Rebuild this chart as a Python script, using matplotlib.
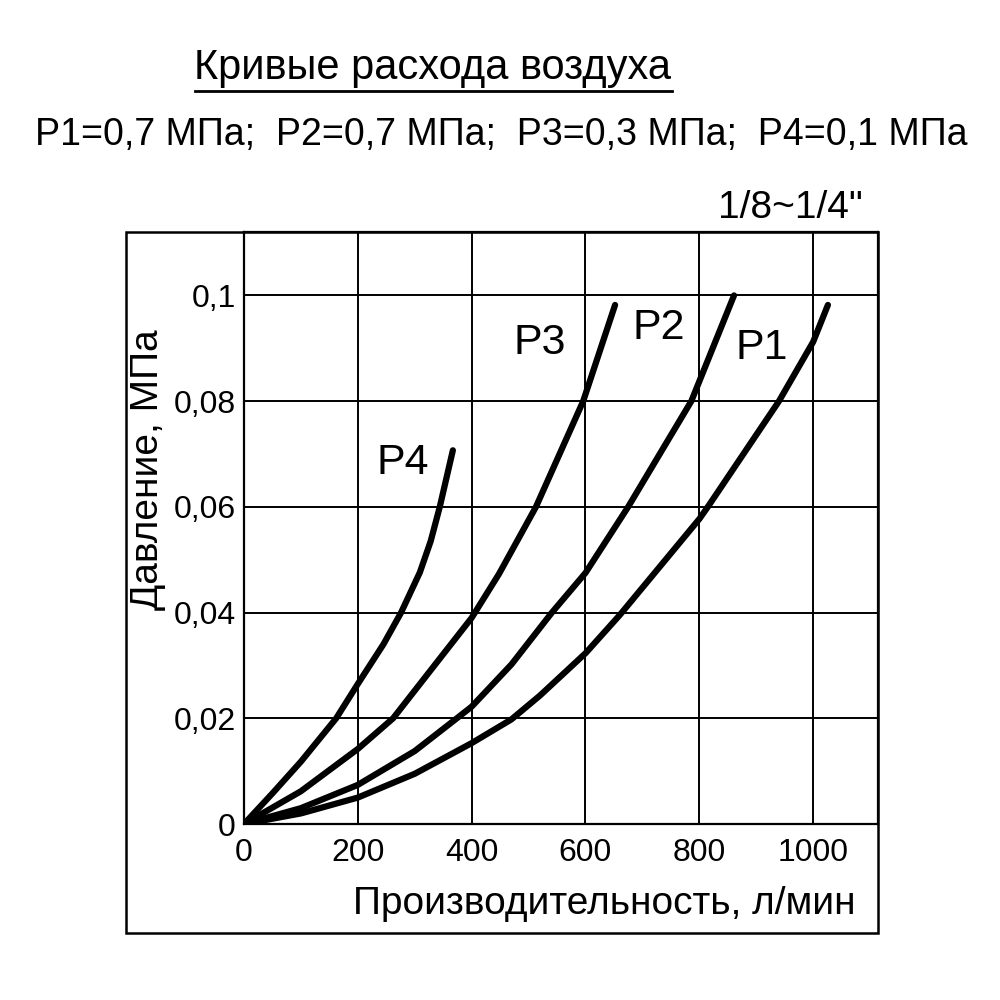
import matplotlib
matplotlib.use('Agg')
import matplotlib.pyplot as plt
from matplotlib.patches import Rectangle
from matplotlib.lines import Line2D

plt.rcParams['font.family'] = ['Liberation Sans', 'DejaVu Sans']

# Curves: flow (l/min) vs pressure drop (MPa)
p1_x = [0, 100, 200, 300, 400, 470, 520, 600, 660, 800, 815, 940, 1000, 1026]
p1_y = [0, 0.002, 0.005, 0.0095, 0.0153, 0.0198, 0.0243, 0.0323, 0.0395, 0.0577, 0.06, 0.08,
        0.0912, 0.0982]
p2_x = [0, 100, 200, 300, 374, 400, 470, 541, 600, 675, 786, 861]
p2_y = [0, 0.003, 0.0074, 0.0138, 0.02, 0.0222, 0.0302, 0.04, 0.0475, 0.06, 0.08, 0.1]
p3_x = [0, 100, 200, 262, 400, 448, 513, 596, 652]
p3_y = [0, 0.0062, 0.0142, 0.02, 0.039, 0.0473, 0.06, 0.08, 0.0982]
p4_x = [0, 50, 100, 162, 200, 245, 276, 309, 328, 344, 367]
p4_y = [0, 0.0058, 0.0118, 0.02, 0.0265, 0.034, 0.04, 0.0476, 0.0535, 0.06, 0.0707]

curve_names = ['P1', 'P2', 'P3', 'P4']
label_x = [910, 728, 520, 279]
label_y = [0.0901, 0.0939, 0.091, 0.0683]

x_ticks = [0, 200, 400, 600, 800, 1000]
y_ticks = [0, 0.02, 0.04, 0.06, 0.08, 0.1]
y_tick_labels = ['0', '0,02', '0,04', '0,06', '0,08', '0,1']

title = 'Кривые расхода воздуха'
subtitle = 'P1=0,7 МПа;  P2=0,7 МПа;  P3=0,3 МПа;  P4=0,1 МПа'
size_note = '1/8~1/4"'


def main():
    fig = plt.figure(figsize=(10, 10), dpi=100)
    ax = fig.add_axes([0.244, 0.176, 0.634, 0.592])

    for xs, ys in [(p1_x, p1_y), (p2_x, p2_y), (p3_x, p3_y), (p4_x, p4_y)]:
        ax.plot(xs, ys, color='black', lw=4.5, solid_capstyle='round',
                solid_joinstyle='round', zorder=3)

    for name, lx, ly in zip(curve_names, label_x, label_y):
        ax.text(lx, ly, name, fontsize=31, ha='center', va='center')

    ax.set_xlim(0, 1114)
    ax.set_ylim(0, 0.112)
    ax.set_xticks(x_ticks)
    ax.set_yticks(y_ticks)
    ax.set_yticklabels(y_tick_labels)
    ax.tick_params(length=0, labelsize=23)
    ax.tick_params(axis='x', pad=10)
    ax.tick_params(axis='y', pad=6)
    ax.grid(True, color='black', lw=1.4)
    for sp in ax.spines.values():
        sp.set_linewidth(1.6)

    ax.set_xlabel('Производительность, л/мин', fontsize=28, loc='right')
    ax.xaxis.set_label_coords(0.964, -0.105)
    ax.set_ylabel('Давление, МПа', fontsize=28)
    ax.yaxis.set_label_coords(-0.123, 0.598)

    # outer frame round the ticks and labels
    fig.add_artist(Rectangle((0.126, 0.067), 0.752, 0.701, transform=fig.transFigure,
                             fill=False, edgecolor='black', lw=1.8))

    fig.text(0.79, 0.792, size_note, fontsize=28, ha='center', va='center')
    fig.text(0.501, 0.865, subtitle, fontsize=27, ha='center', va='center')
    t = fig.text(0.433, 0.932, title, fontsize=30, ha='center', va='center')

    # underline the title
    fig.canvas.draw()
    bb = t.get_window_extent().transformed(fig.transFigure.inverted())
    fig.add_artist(Line2D([bb.x0, bb.x1], [bb.y0 - 0.003, bb.y0 - 0.003],
                          transform=fig.transFigure, color='black', lw=2))

    fig.savefig('out.png', dpi=100, facecolor='white')


if __name__ == '__main__':
    main()
